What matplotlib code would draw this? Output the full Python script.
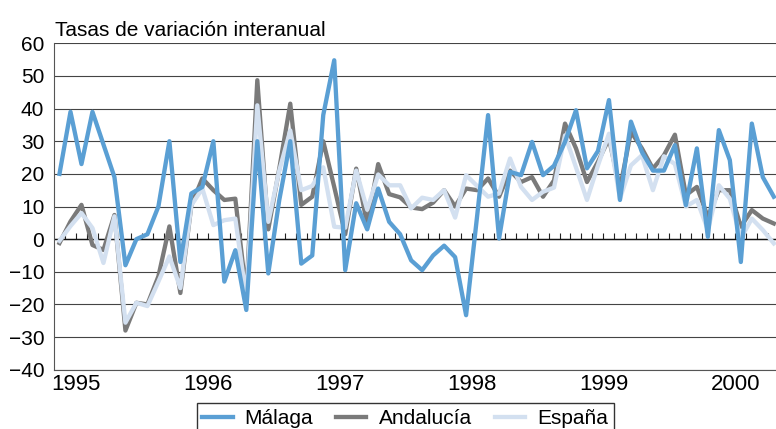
import numpy as np
import matplotlib
matplotlib.use("Agg")
import matplotlib.pyplot as plt

plt.rcParams["font.family"] = ["Liberation Sans", "DejaVu Sans"]

# monthly series, Jan 1995 - Jun 2000
malaga = [20, 39, 23, 39, 29, 19, -8, 0, 1.5, 10, 30, -7,
          14, 16, 30, -13, -3.4, -21.7, 30, -10.5, 12, 30, -7.5, -5,
          38, 54.8, -9.5, 11, 3, 15.5, 5.3, 1.5, -6.5, -9.5, -5, -2,
          -5.5, -23.3, 7, 38, 0.2, 20.6, 19.6, 29.8, 19.6, 22.5, 29.8, 39.5,
          21.7, 27, 42.6, 12, 36, 26.7, 21, 21, 28.8, 10.4, 27.8, 0.7,
          33.4, 24.2, -7, 35.4, 19, 13]
andalucia = [-1.2, 5.4, 10.5, -1.8, -3.3, 7.4, -28, -19.5, -20, -11.4, 3.9, -16.5,
             10.4, 18.6, 15, 12, 12.4, -17, 48.7, 3, 21.6, 41.5, 10.5, 13,
             30, 16, 1.5, 21.6, 4.5, 23, 13.8, 12.8, 9.7, 9.2, 11.2, 15,
             10, 15.5, 15, 18.6, 13, 21, 17.5, 19, 13, 18, 35.4, 27.8,
             17.5, 23.7, 30.8, 15.5, 32.9, 27.8, 21.6, 25.7, 32, 13.5, 16, 6.8,
             15, 15, 3.8, 8.9, 6.3, 4.8]
espana = [-0.5, 4, 8, 3.4, -7.3, 7, -25.6, -19.5, -20.5, -13, -5.3, -15,
          10.4, 15.5, 4.3, 5.8, 6.3, -18, 41, 5.3, 21, 33.3, 15, 16.3,
          22, 3.8, 3.5, 21, 9, 19.8, 16.5, 16.5, 9.4, 12.7, 12, 15,
          6.6, 19.6, 16.3, 13, 14, 24.7, 16, 12, 14.5, 15.8, 31.8, 22,
          12, 22.6, 32.3, 12.4, 22.6, 25.7, 15, 25.4, 23, 10, 12, 2.8,
          16.5, 12.4, 0.2, 6.3, 2.8, -1.3]
anios = ["1995", "1996", "1997", "1998", "1999", "2000"]

x = np.arange(len(malaga))

fig = plt.figure(figsize=(7.76, 4.29), dpi=100)
ax = fig.add_axes([54 / 776, 59.3 / 429, 1 - 54 / 776, 326.4 / 429])

ax.plot(x, andalucia, color="#7a7a7a", lw=3.1, label="Andalucía", zorder=3)
ax.plot(x, espana, color="#d3e0f0", lw=3.1, label="España", zorder=4)
ax.plot(x, malaga, color="#5a9fd4", lw=3.1, label="Málaga", zorder=5)

ax.set_xlim(-0.5, 65.2)
ax.set_ylim(-40, 60)
ax.set_yticks(np.arange(-40, 61, 10))
ax.yaxis.grid(True, color="#444444", lw=0.8)
ax.set_axisbelow(True)
ax.tick_params(axis="y", length=0, pad=7, labelsize=15)

# year labels under the axis, small month ticks on the zero line
ax.set_xticks(np.arange(len(anios)) * 12 + 1.5)
ax.set_xticklabels(anios)
ax.tick_params(axis="x", length=0, pad=3, labelsize=16)
ax.vlines(np.arange(len(malaga) - 1) + 0.5, 0, 2, color="#222222", lw=0.8, zorder=2)
ax.axhline(0, color="#111111", lw=1.0, zorder=2)

for s in ["top", "right"]:
    ax.spines[s].set_visible(False)
ax.spines["left"].set_color("#555555")
ax.spines["bottom"].set_color("#555555")

fig.text(55 / 776, 1 - 36 / 429, "Tasas de variación interanual", fontsize=15, va="baseline")

handles, labels = ax.get_legend_handles_labels()
orden = [2, 0, 1]
leg = fig.legend([handles[i] for i in orden], [labels[i] for i in orden],
                 loc="upper center", bbox_to_anchor=(405 / 776, 1 - 403 / 429),
                 ncol=3, fontsize=15, frameon=True, fancybox=False,
                 handlelength=1.45, handletextpad=0.58, columnspacing=1.1,
                 borderpad=0.28, borderaxespad=0)
leg.get_frame().set_edgecolor("black")
leg.get_frame().set_linewidth(1.0)

fig.savefig("out.png", dpi=100)
